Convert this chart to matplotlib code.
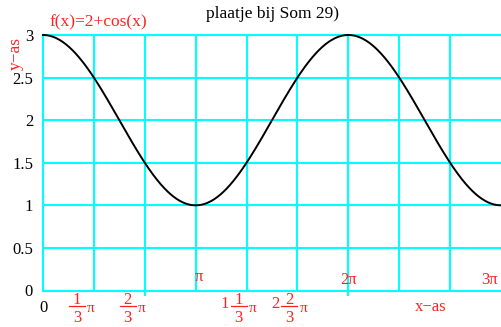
import numpy as np
import matplotlib
matplotlib.use("Agg")
import matplotlib.pyplot as plt
from matplotlib.transforms import IdentityTransform
from matplotlib.lines import Line2D

plt.rcParams['font.family'] = ['Liberation Serif', 'DejaVu Serif']

title = "plaatje bij Som 29)"
func_label = "f(x)=2+cos(x)"
x_min, x_max = 0, 3 * np.pi
y_ticks = [0, 0.5, 1, 1.5, 2, 2.5, 3]
y_tick_labels = ["0", "0.5", "1", "1.5", "2", "2.5", "3"]
grid_x_thirds = [0, 1, 2, 3, 4, 5, 6, 7, 8]
# fraction labels: (thirds, whole part, numerator, denominator)
frac_labels = [(1, "", "1", "3"), (2, "", "2", "3"), (4, "1", "1", "3"), (5, "2", "2", "3")]
pi_multiples = [(1, "π"), (2, "2π"), (3, "3π")]

x = np.linspace(x_min, x_max, 600)
y = 2 + np.cos(x)

W, H = 501, 327
fig = plt.figure(figsize=(W/100, H/100), dpi=100)
ax = fig.add_axes([43/W, 1-290.5/H, (W-43)/W, (290.5-35)/H])
ax.set_xlim(x_min, x_max)
ax.set_ylim(0, 3)

cyan = '#00ffff'
red = '#ff2020'
for yv in y_ticks:
    ax.axhline(yv, color=cyan, lw=1.5, zorder=1, clip_on=False)
for k in grid_x_thirds:
    ax.axvline(k*np.pi/3, color=cyan, lw=1.5, zorder=1, clip_on=False)

ax.plot(x, y, color='black', lw=1.4, zorder=3, clip_on=False)

for s in ax.spines.values():
    s.set_visible(False)
ax.set_xticks([])
ax.set_yticks([])

ident = IdentityTransform()

def px(xv, yv):
    return ax.transData.transform((xv, yv))

# small ticks below axis
for k in [2, 6]:
    X, Y = px(k*np.pi/3, 0)
    fig.add_artist(Line2D([X, X], [Y, Y-4], color=cyan, lw=1.5, transform=ident))

fs = 12
for yv, lab in zip(y_ticks, y_tick_labels):
    X, Y = px(0, yv)
    fig.text(X-10, Y-2, lab, ha='right', va='center', fontsize=fs, color='black', transform=ident)

X, Y = px(0, 0)
fig.text(X, Y-17, "0", ha='center', va='center', fontsize=fs, color='black', transform=ident)

for k, whole, num, den in frac_labels:
    X, Y = px(k*np.pi/3, 0)
    if whole:
        F = X - 16
        fig.text(F-6, Y-13.5, whole, ha='center', va='center', fontsize=fs, color=red, transform=ident)
    else:
        F = X - 25
    fig.text(F+8, Y-9, num, ha='center', va='center', fontsize=12, color=red, transform=ident)
    fig.add_artist(Line2D([F, F+16], [Y-15.2, Y-15.2], color=red, lw=0.9, transform=ident))
    fig.text(F+8, Y-27.5, den, ha='center', va='center', fontsize=12, color=red, transform=ident)
    fig.text(F+22, Y-17.5, "π", ha='center', va='center', fontsize=11, color=red, transform=ident)

offs = {1: (3, 13.5), 2: (0, 11), 3: (-12, 11)}
for m, lab in pi_multiples:
    X, Y = px(m*np.pi, 0)
    dx, dy = offs[m]
    fig.text(X+dx, Y+dy, lab, ha='center', va='center', fontsize=fs, color=red, transform=ident)

fig.text(431/W, 1-307/H, "x−as", ha='center', va='center', fontsize=fs, color=red)
fig.text(16/W, 1-53/H, "y−as", rotation=90, ha='center', va='center', fontsize=12.5, color=red)
fig.text(50/W, 1-22/H, func_label, ha='left', va='center', fontsize=12.5, color=red)
fig.text(272/W, 1-14/H, title, ha='center', va='center', fontsize=12.5, color='black')

fig.savefig("out.png", dpi=100)
